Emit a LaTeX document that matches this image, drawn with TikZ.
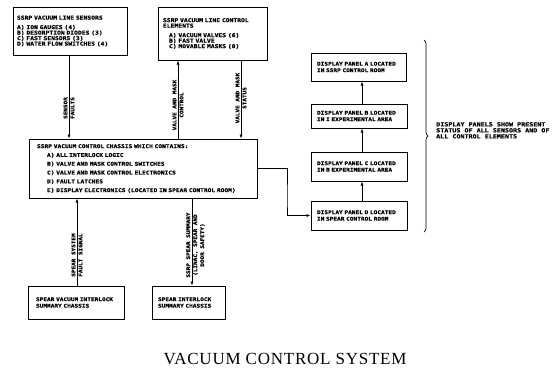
\documentclass[tikz,border=0pt]{standalone}
\usepackage{fontspec}
\usetikzlibrary{arrows.meta,decorations.pathreplacing}
\newfontfamily\lett[FakeStretch=1.2, BoldFeatures={FakeBold=0.7}]{DejaVu Sans Mono}
\newfontfamily\ttl[LetterSpace=4.5]{Liberation Serif}
\begin{document}
\begin{tikzpicture}[x=1pt,y=-1pt,
  blk/.style={draw, line width=1pt, rectangle, inner ysep=2pt, align=left},
  smallbox/.style={font=\lett\bfseries\fontsize{5.3}{5.5}\selectfont},
  panelbox/.style={font=\lett\bfseries\fontsize{5.1}{6.5}\selectfont},
  wire/.style={line width=0.7pt},
  tip/.style={-{Latex[length=4pt,width=3pt]}},
  vlab/.style={rotate=90, align=center, inner sep=0pt, font=\lett\bfseries\fontsize{5}{7}\selectfont}]
\useasboundingbox (0,0) rectangle (556,373);

% top boxes
\node[blk, smallbox, inner xsep=4pt, text width=106pt, minimum height=48pt] (sens) at (70,31)
  {SSRP VACUUM LINE SENSORS\\[4pt]
   A) ION GAUGES (4)\\
   B) DESORPTION DIODES (3)\\
   C) FAST SENSORS (3)\\
   D) WATER FLOW SWITCHES (4)};
\node[blk, smallbox, inner xsep=5pt, text width=99pt, minimum height=53pt] (ctrl) at (212.5,33.5)
  {SSRP VACUUM LINE CONTROL\\
   ELEMENTS\\[4pt]
   \hspace*{6pt}A) VACUUM VALVES (6)\\
   \hspace*{6pt}B) FAST VALVE\\
   \hspace*{6pt}C) MOVABLE MASKS (8)};

% main chassis
\node[blk, inner xsep=8pt, text width=212pt, minimum height=59pt,
      font=\lett\bfseries\fontsize{5.2}{8.8}\selectfont] (main) at (143,168.5)
  {SSRP VACUUM CONTROL CHASSIS WHICH CONTAINS:\\
   \hspace*{10pt}A) ALL INTERLOCK LOGIC\\
   \hspace*{10pt}B) VALVE AND MASK CONTROL SWITCHES\\
   \hspace*{10pt}C) VALVE AND MASK CONTROL ELECTRONICS\\
   \hspace*{10pt}D) FAULT LATCHES\\
   \hspace*{10pt}E) DISPLAY ELECTRONICS (LOCATED IN SPEAR CONTROL ROOM)};

% bottom boxes
\node[blk, panelbox, inner xsep=8pt, text width=80pt, minimum height=33pt] (svis) at (76,302.5)
  {SPEAR VACUUM INTERLOCK\\SUMMARY CHASSIS};
\node[blk, panelbox, inner xsep=6pt, text width=61pt, minimum height=33pt] (sis) at (188.5,302.5)
  {SPEAR INTERLOCK\\SUMMARY CHASSIS};

% display panels
\node[blk, panelbox, inner xsep=6pt, text width=83pt, minimum height=28pt] (panA) at (358.5,67)
  {DISPLAY PANEL A LOCATED\\IN SSRP CONTROL ROOM};
\node[blk, panelbox, inner xsep=6pt, text width=84pt, minimum height=24pt] (panB) at (359,116)
  {DISPLAY PANEL B LOCATED\\IN I EXPERIMENTAL AREA};
\node[blk, panelbox, inner xsep=6pt, text width=84pt, minimum height=29pt] (panC) at (359,166.5)
  {DISPLAY PANEL C LOCATED\\IN B EXPERIMENTAL AREA};
\node[blk, panelbox, inner xsep=6pt, text width=84pt, minimum height=29pt] (panD) at (359,215.5)
  {DISPLAY PANEL D LOCATED\\IN SPEAR CONTROL ROOM};

% vertical connector positions
\coordinate (xa) at (69,0);
\coordinate (xb) at (178,0);
\coordinate (xc) at (241,0);
\coordinate (xd) at (77,0);
\coordinate (xe) at (192,0);
\coordinate (xp) at (362,0);
\coordinate (turn) at (287,200);

\draw[wire,tip] (sens.south -| xa) -- (main.north -| xa);
\draw[wire,tip] (main.north -| xb) -- (ctrl.south -| xb);
\draw[wire,tip] (ctrl.south -| xc) -- (main.north -| xc);
\draw[wire,tip] (svis.north -| xd) -- (main.south -| xd);
\draw[wire,tip] (main.south -| xe) -- (sis.north -| xe);

\draw[wire,tip] (main.east) -| (turn) |- (panD.west);
\draw[wire,tip] (panD.north -| xp) -- (panC.south -| xp);
\draw[wire,tip] (panC.north -| xp) -- (panB.south -| xp);
\draw[wire,tip] (panB.north -| xp) -- (panA.south -| xp);

% connector labels
\node[vlab] (lsens) at (69,108) {SENSOR\\FAULTS};
\node[vlab] (lvmc) at (178,105) {VALVE AND MASK\\CONTROL};
\node[vlab] (lvms) at (241,98) {VALVE AND MASK\\STATUS};
\node[vlab] (lsvf) at (77,255) {SPEAR SYSTEM\\FAULT SIGNAL};
\node[vlab] (lsss) at (195.5,245) {SSRP SPEAR SUMMARY\\(LINAC, SPEAR AND\\DOOR SAFETY)};

% brace and note
\draw[wire, decorate, decoration={brace, amplitude=4pt}] (424,40) -- (424,232);
\node[anchor=north west, align=left, inner sep=0pt,
      font=\lett\bfseries\fontsize{5.6}{6}\selectfont] (note) at (436,122)
  {DISPLAY PANELS SHOW PRESENT\\STATUS OF ALL SENSORS AND OF\\ALL CONTROL ELEMENTS};

% title
\node[font=\ttl\fontsize{17}{18}\selectfont] (title) at (285,359) {VACUUM CONTROL SYSTEM};
\end{tikzpicture}
\end{document}
